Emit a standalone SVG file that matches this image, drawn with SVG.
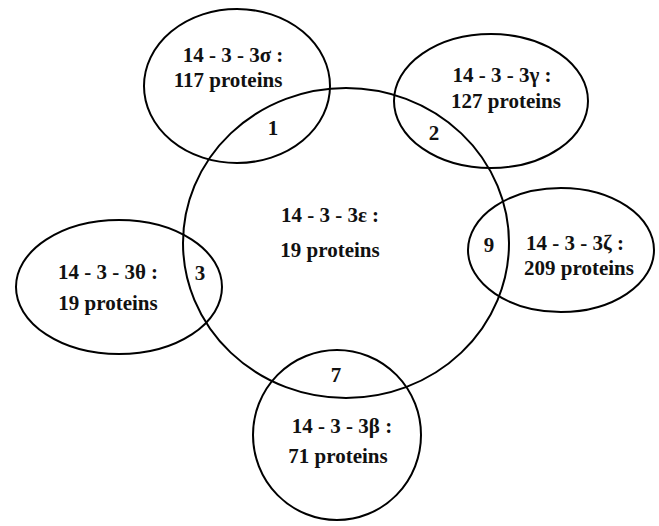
<svg xmlns="http://www.w3.org/2000/svg" width="659" height="526" viewBox="0 0 659 526">
<style>
.c{fill:none;stroke:#000;stroke-width:2}
text{font-family:"Liberation Serif","Times New Roman",serif;font-weight:bold;font-size:21px;fill:#111;text-anchor:middle}
</style>
<rect width="659" height="526" fill="#fff"/>
<g id="epsilon">
<ellipse class="c" cx="346" cy="243" rx="163" ry="155"/>
<text x="330" y="222">14 - 3 - 3ε :</text>
<text x="330" y="257">19 proteins</text>
</g>
<g id="sigma">
<ellipse class="c" cx="237" cy="86" rx="93" ry="77"/>
<text x="233" y="62">14 - 3 - 3σ :</text>
<text x="228" y="87">117 proteins</text>
</g>
<g id="gamma">
<ellipse class="c" cx="491" cy="101" rx="97" ry="67"/>
<text x="502" y="82">14 - 3 - 3γ :</text>
<text x="506" y="108">127 proteins</text>
</g>
<g id="zeta">
<ellipse class="c" cx="561" cy="250" rx="93" ry="62"/>
<text x="575" y="250">14 - 3 - 3ζ :</text>
<text x="579" y="275">209 proteins</text>
</g>
<g id="theta">
<ellipse class="c" cx="119" cy="287" rx="103" ry="67"/>
<text x="108" y="279">14 - 3 - 3θ :</text>
<text x="108" y="310">19 proteins</text>
</g>
<g id="beta">
<ellipse class="c" cx="337" cy="435" rx="84" ry="85"/>
<text x="342" y="433">14 - 3 - 3β :</text>
<text x="338" y="463">71 proteins</text>
</g>
<g id="overlaps">
<text x="273" y="135">1</text>
<text x="434" y="140">2</text>
<text x="200" y="280">3</text>
<text x="489" y="252">9</text>
<text x="336" y="382">7</text>
</g>
</svg>
